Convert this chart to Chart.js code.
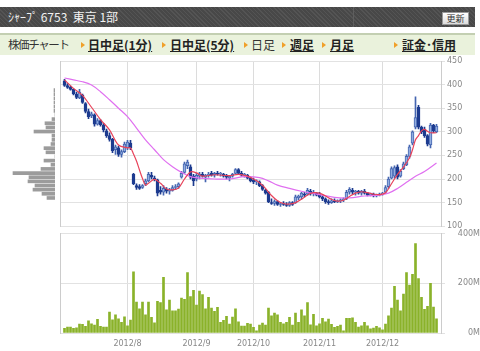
<!DOCTYPE html>
<html>
<head>
<meta charset="utf-8">
<script src="https://cdn.jsdelivr.net/npm/chart.js@4"></script>
<style>
body { margin: 0; width: 480px; height: 351px; overflow: hidden; position: relative; background: #fff; font-family: 'Noto Sans CJK JP', sans-serif; }
#head { position: absolute; left: 0; top: 7px; width: 475px; height: 20px;
  background: repeating-linear-gradient(45deg, #545454 0, #545454 1px, #484848 1px, #484848 3px); }
#head .sep { position: absolute; left: 353px; top: 0; width: 1px; height: 20px; background: #5e5e5e; }
#head .title { position: absolute; left: 8px; top: 0; line-height: 20px; font-size: 12px; color: #f2f2f2; white-space: pre; }
#head .btn { position: absolute; left: 442px; top: 5px; width: 25px; height: 11px; border: 1px solid #999;
  background: linear-gradient(#fff, #dcdcdc); font-size: 9px; line-height: 11px; text-align: center; color: #333; }
#nav { position: absolute; left: 0; top: 33px; width: 475px; height: 20px; border-top: 2px solid #c3cfb2; background: #eaf2dc; }
#nav span { position: absolute; top: 0; line-height: 19px; font-size: 12px; color: #333; white-space: nowrap; }
#nav span.lk { font-weight: bold; text-decoration: underline; color: #222; }
#nav span.pl { font-size: 11.5px; letter-spacing: -1.4px; }
#nav i { position: absolute; top: 7px; width: 0; height: 0; border-left: 4px solid #f0a02a;
  border-top: 3px solid transparent; border-bottom: 3px solid transparent; }
canvas { position: absolute; left: 0; }
</style>
</head>
<body>
<div id="head"><div class="sep"></div><div class="title">ｼｬｰﾌﾟ 6753  東京 1部</div><div class="btn">更新</div></div>
<div id="nav">
  <span class="pl" style="left:8px">株価チャート</span>
  <i style="left:81px"></i><span class="lk" style="left:88px">日中足(1分)</span>
  <i style="left:162px"></i><span class="lk" style="left:170px">日中足(5分)</span>
  <i style="left:244px"></i><span style="left:251px">日足</span>
  <i style="left:282px"></i><span class="lk" style="left:290px">週足</span>
  <i style="left:322px"></i><span class="lk" style="left:330px">月足</span>
  <i style="left:394px"></i><span class="lk" style="left:402px">証金･信用</span>
</div>
<canvas id="price" width="480" height="180" style="top:53px"></canvas>
<canvas id="vbp" width="55" height="180" style="top:53px"></canvas>
<canvas id="vol" width="480" height="124" style="top:227px"></canvas>
<script>
// trading days per month (2012/7 - 2012/12)
const months = ['2012/7', '2012/8', '2012/9', '2012/10', '2012/11', '2012/12'];
const monthDays = [21, 23, 19, 22, 21, 19];

// daily prices
const open = [408,398,394,390,380,372,378,360,343,334,336,316,324,314,302,292,284,262,266,252,258,
  266,276,210,186,184,182,190,196,208,202,198,176,172,178,174,176,182,184,204,214,228,226,206,
  200,206,210,204,208,212,208,212,210,210,206,202,206,212,220,212,208,208,202,
  198,194,194,186,176,172,150,148,152,146,148,146,144,150,150,160,162,168,168,174,170,170,
  168,162,158,152,150,154,152,154,156,158,172,176,172,174,170,174,170,166,168,164,166,
  168,172,184,202,206,226,206,222,230,248,276,310,352,310,306,292,272,314,300];
const high = [411,402,397,391,384,390,380,362,348,342,338,328,326,318,306,298,286,272,270,262,278,
  282,282,212,190,188,188,200,214,214,206,200,184,186,182,180,186,188,192,216,236,240,230,210,
  212,214,214,210,214,216,214,216,214,212,210,208,212,222,222,216,212,210,204,
  202,198,196,188,178,174,158,156,154,150,152,150,152,152,166,166,172,172,180,178,176,172,
  172,166,160,156,158,158,156,158,160,176,182,180,176,176,176,178,172,170,170,168,170,
  172,186,204,226,228,230,220,236,252,272,302,374,356,312,310,294,318,316,316];
const low = [396,392,388,378,370,370,360,340,328,330,312,314,312,300,288,280,256,252,248,246,256,
  262,262,188,178,178,180,186,194,200,196,164,168,166,170,168,174,178,180,202,212,222,200,186,
  196,200,204,194,204,206,204,208,206,204,200,196,204,210,210,206,204,200,194,
  190,188,184,176,168,150,146,144,144,142,144,142,142,144,148,156,158,162,166,166,164,164,
  160,154,148,146,148,150,150,150,152,156,168,168,166,168,166,168,164,164,162,162,164,
  166,170,180,200,202,200,204,220,228,244,272,306,306,296,288,270,266,298,298];
const close = [398,394,390,380,373,384,362,343,332,338,316,324,315,304,292,284,260,268,252,258,274,
  278,266,190,182,180,186,196,210,204,200,170,172,180,174,176,182,184,190,212,232,236,204,196,
  208,210,206,208,210,208,212,210,212,206,204,206,210,220,212,208,210,202,196,
  194,196,186,178,170,152,148,152,146,148,146,144,150,146,162,164,170,166,176,170,172,166,
  162,158,152,150,154,152,154,156,158,172,178,172,174,170,174,170,166,168,164,166,168,
  170,182,200,222,224,204,216,232,248,268,300,330,310,300,292,274,314,302,312];

// volume (M shares)
const volume = [19,24,24,19,21,36,35,27,49,37,32,55,27,24,24,84,53,73,57,43,65,
  29,52,247,125,97,125,73,125,63,41,128,123,224,93,133,89,89,96,141,136,244,147,172,
  113,169,155,97,144,100,87,104,43,51,67,36,64,97,45,28,28,39,36,
  23,9,32,40,32,100,69,80,73,43,37,43,63,32,80,43,93,69,123,33,75,29,
  37,59,45,56,35,23,27,32,9,59,59,61,43,24,29,43,29,17,20,27,21,
  13,36,69,100,188,133,89,157,244,193,237,361,219,144,95,108,200,105,57];

// moving averages (day index, value)
const maShortIdx = [0,3,6,9,12,15,18,21,22,23,24,25,26,27,28,30,32,34,36,38,40,42,44,46,50,55,58,61,63,65,67,69,71,73,75,77,79,81,83,85,87,89,91,93,95,97,99,101,103,105,107,109,111,113,115,116,117,118,119,120,121,122,124];
const maShort = [410,392,377,352,326,304,272,266,266,253,238,219,201,187,191,199,191,179,177,181,200,215,213,206,209,207,210,206,200,192,180,165,154,148,147,150,157,166,171,170,164,157,153,155,163,170,173,171,168,167,171,190,210,225,245,262,283,292,302,305,301,298,298];
const maLongIdx = [0,3,6,9,12,15,18,21,24,27,30,33,36,39,42,45,50,55,60,65,68,71,75,79,85,90,95,100,105,108,111,114,117,120,124];
const maLong = [414,410,406,399,385,368,350,332,308,283,262,241,226,214,205,202,200,200,205,203,196,187,180,174,167,161,160,164,166,170,180,193,206,216,234];

// volume by price (left side)
const vbpPrice = [145,155,165,175,185,195,205,215,225,235,245,255,265,275,285,295,305,315,325,335,345,355,365,375,385,395,405];
const vbpVolume = [8,13,22,20,27,26,42,14,4,11,0,9,11,4,3,3,21,9,10,3,0,1,1,1,1,1,1];

// categories, with one empty slot on each side
const labels = [''];
const monthStart = [];
months.forEach((m, k) => {
  monthStart.push(labels.length);
  for (let d = 0; d < monthDays[k]; d++) labels.push(d === 0 ? m : m + '.' + d);
});
labels.push(' ');
const gridIdx = monthStart.slice(1);

const pad = arr => [null, ...arr, null];
const sparse = (idx, vals) => {
  const out = labels.map(() => null);
  idx.forEach((d, k) => { out[d + 1] = vals[k]; });
  return out;
};

const up = pad(open.map((o, i) => close[i] >= o));
const bodyFill = up.map(u => u ? '#93aee0' : '#1d3b8f');
const bodyLine = up.map(u => u ? '#4465b0' : '#1d3b8f');
const wickCol = up.map(u => u ? '#4465b0' : '#1d3b8f');

const tickFont = { family: 'DejaVu Sans', size: 8 };
const monthGrid = ctx => gridIdx.includes(ctx.index) ? '#dcdcdc' : 'rgba(0,0,0,0)';
const common = {
  animation: false, responsive: false, events: [],
  plugins: { legend: { display: false }, tooltip: { enabled: false } }
};
const leftBorder = {
  position: 'left', ticks: { display: false }, grid: { display: false, drawTicks: false },
  border: { color: '#cccccc' }, afterFit: s => { s.width = 0; }
};

new Chart(document.getElementById('price'), {
  type: 'bar',
  data: {
    labels: labels,
    datasets: [
      { type: 'line', data: sparse(maShortIdx, maShort), borderColor: '#e8435a', borderWidth: 1.2,
        pointRadius: 0, spanGaps: true, tension: 0.35, order: 0 },
      { type: 'line', data: sparse(maLongIdx, maLong), borderColor: '#e070f0', borderWidth: 1.2,
        pointRadius: 0, spanGaps: true, tension: 0.35, order: 0 },
      { data: pad(open.map((o, i) => [o, close[i]])), backgroundColor: bodyFill, borderColor: bodyLine,
        borderWidth: 1, borderSkipped: false, barThickness: 3, grouped: false, order: 1 },
      { data: pad(low.map((l, i) => [l, high[i]])), backgroundColor: wickCol,
        barThickness: 1, grouped: false, order: 2 }
    ]
  },
  options: {
    ...common,
    layout: { padding: { left: 60, right: 0, top: 8, bottom: 6 } },
    scales: {
      x: { offset: true, ticks: { display: false }, grid: { offset: false, drawTicks: false, color: monthGrid },
           border: { display: false } },
      y: { position: 'right', min: 100, max: 450,
           ticks: { stepSize: 50, font: tickFont, color: '#888', padding: 2 },
           grid: { color: '#e2e2e2', tickLength: 4 }, border: { color: '#cccccc' },
           afterFit: s => { s.width = 39; } },
      yl: leftBorder
    }
  }
});

new Chart(document.getElementById('vbp'), {
  type: 'bar',
  data: {
    datasets: [{ data: vbpPrice.map((p, i) => ({ x: vbpVolume[i], y: p })), backgroundColor: '#9c9c9c', barThickness: 3 }]
  },
  options: {
    ...common,
    indexAxis: 'y',
    layout: { padding: { left: 0, right: 0, top: 8, bottom: 6 } },
    scales: {
      y: { type: 'linear', min: 100, max: 450, display: false },
      x: { type: 'linear', min: 0, max: 55, reverse: true, display: false }
    }
  }
});

new Chart(document.getElementById('vol'), {
  type: 'bar',
  data: {
    labels: labels,
    datasets: [{ data: pad(volume), backgroundColor: '#8ab22a', barThickness: 2 }]
  },
  options: {
    ...common,
    layout: { padding: { left: 60, right: 0, top: 6, bottom: 0 } },
    scales: {
      x: { offset: true,
           ticks: { autoSkip: false, maxRotation: 0, padding: 6, font: tickFont, color: '#888',
                    callback: (v, i) => gridIdx.includes(i) ? labels[i] : '' },
           grid: { offset: false, drawTicks: false, color: monthGrid }, border: { display: false },
           afterFit: s => { s.height = 18; } },
      y: { position: 'right', min: 0, max: 400,
           ticks: { stepSize: 200, font: tickFont, color: '#888', padding: 2, crossAlign: 'far', callback: v => v + 'M' },
           grid: { color: '#e2e2e2', tickLength: 4 }, border: { color: '#cccccc' },
           afterFit: s => { s.width = 39; } },
      yl: leftBorder
    }
  }
});
</script>
</body>
</html>
